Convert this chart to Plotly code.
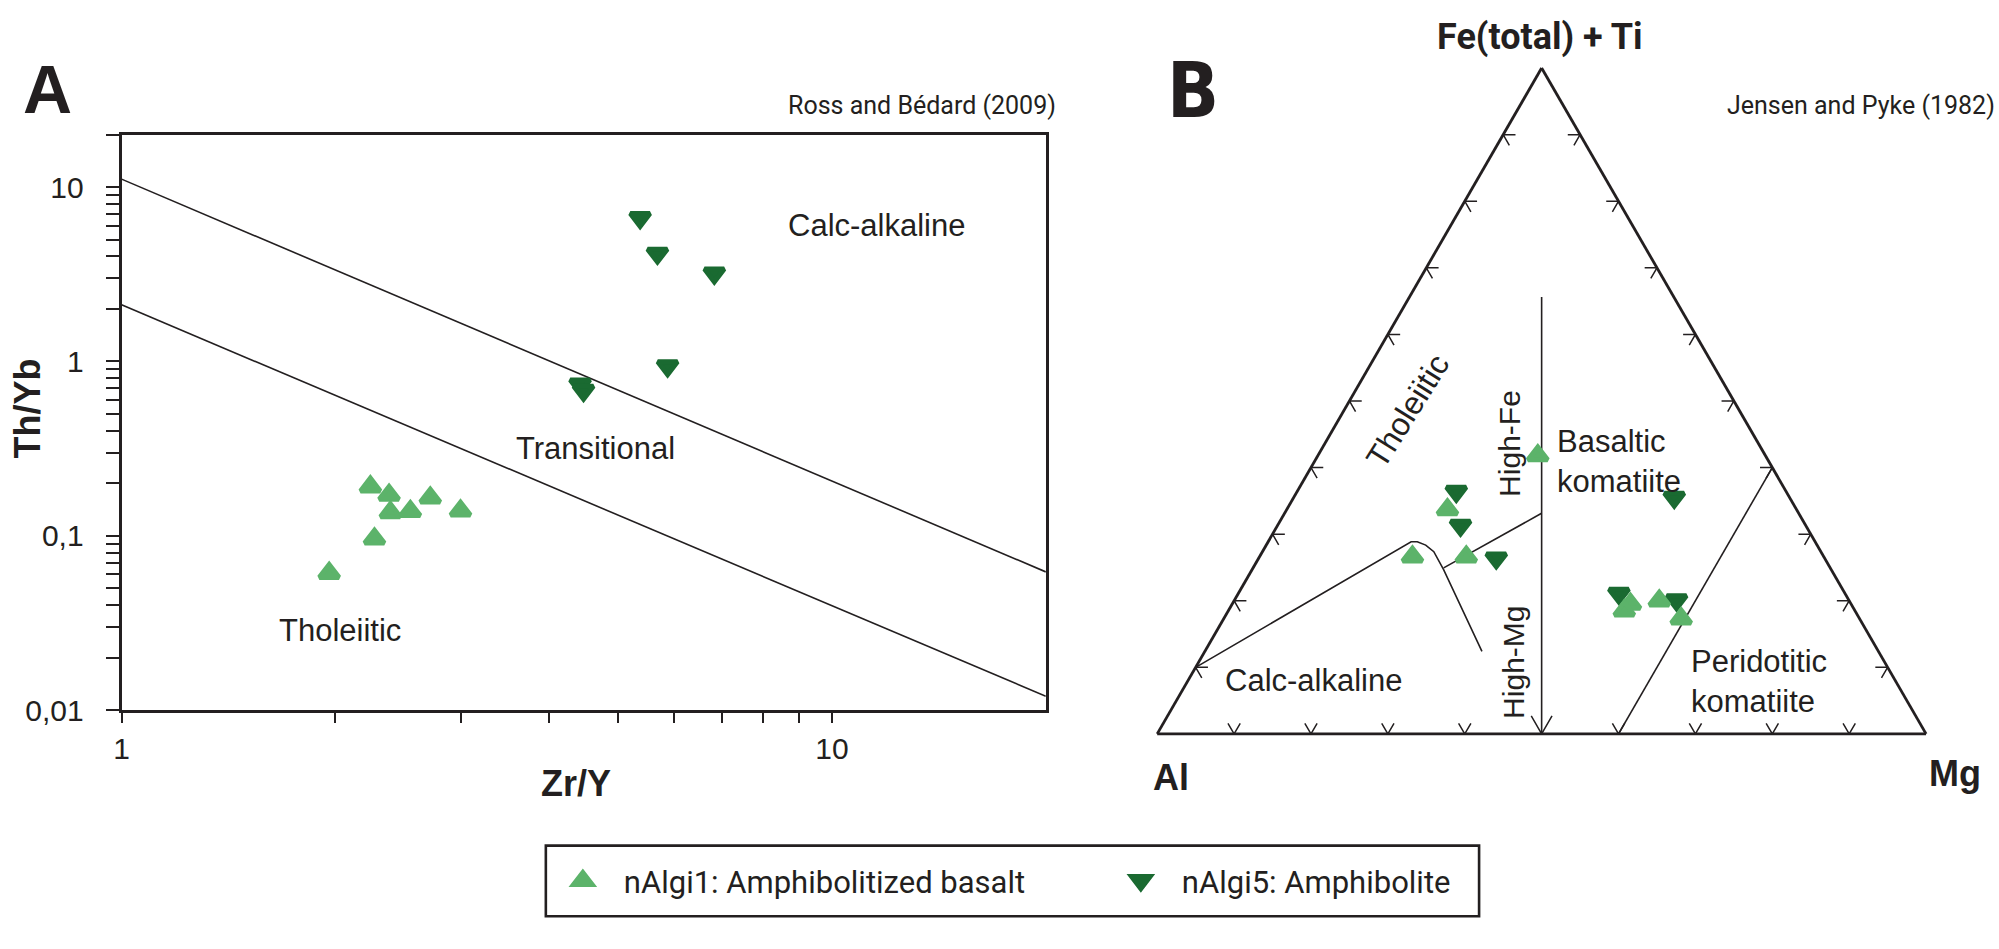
import math
import plotly.graph_objects as go

W, H = 1999, 949

# ---------------- Panel A : Th/Yb vs Zr/Y (Ross and Bédard, 2009) ----------------
zr_y_basalt = [2.24, 2.38, 2.39, 2.55, 2.72, 3.00, 2.27, 1.96]
th_yb_basalt = [0.191, 0.171, 0.136, 0.138, 0.165, 0.139, 0.096, 0.061]
zr_y_amph = [5.37, 5.68, 6.83, 4.42, 4.47, 5.87]
th_yb_amph = [6.66, 4.16, 3.20, 0.74, 0.68, 0.94]

bound_zr = [1, 20]
bound_upper = [11.1, 0.062]
bound_lower = [2.11, 0.012]

y_decades = [0.01, 0.1, 1, 10]
y_decade_text = ["0,01", "0,1", "1", "10"]
x_decades = [1, 10]
x_decade_text = ["1", "10"]
minor_mult = [2, 3, 4, 5, 6, 7, 8, 9]

# ---------------- Panel B : Jensen cation plot (Jensen and Pyke, 1982) ----------------
fe_basalt = [0.418, 0.337, 0.266, 0.266, 0.195, 0.185, 0.200, 0.173]
al_basalt = [0.296, 0.454, 0.465, 0.535, 0.287, 0.300, 0.247, 0.232]
mg_basalt = [0.286, 0.209, 0.269, 0.199, 0.518, 0.515, 0.553, 0.595]
fe_amph = [0.364, 0.313, 0.264, 0.355, 0.211, 0.201]
al_amph = [0.429, 0.449, 0.427, 0.150, 0.294, 0.224]
mg_amph = [0.207, 0.238, 0.309, 0.495, 0.495, 0.575]

# field boundaries (Fe+Ti, Al, Mg)
div_fe = [0.0, 0.656]
div_al = [0.5, 0.172]
div_mg = [0.5, 0.172]
thca_fe = [0.100, 0.2885, 0.2885, 0.2836, 0.2737, 0.2468, 0.1239]
thca_al = [0.900, 0.5255, 0.5175, 0.5090, 0.5034, 0.5041, 0.5157]
thca_mg = [0.000, 0.1860, 0.1940, 0.2074, 0.2229, 0.2491, 0.3604]
bk_fe = [0.2493, 0.3313]
bk_al = [0.5028, 0.3344]
bk_mg = [0.2479, 0.3343]
pk_fe = [0.0, 0.4]
pk_al = [0.4, 0.0]
pk_mg = [0.6, 0.6]
edge_ticks = [0.1, 0.2, 0.3, 0.4, 0.5, 0.6, 0.7, 0.8, 0.9]

LIGHT = "#5cb36a"
DARK = "#1a6a31"
INK = "#231f20"
AR = "Liberation Sans, Arial, Helvetica, sans-serif"
MY = "Roboto, Open Sans, sans-serif"
MSIZE = 17
MLINE = 5


def px(x):
    return x / W


def py(y):
    return 1 - y / H


fig = go.Figure()

# boundary lines panel A
for yy in (bound_upper, bound_lower):
    fig.add_trace(go.Scatter(x=bound_zr, y=yy, mode="lines", line=dict(color=INK, width=1.6),
                             showlegend=False, hoverinfo="skip", xaxis="x", yaxis="y"))

fig.add_trace(go.Scatter(x=zr_y_amph, y=th_yb_amph, mode="markers", name="nAlgi5: Amphibolite",
                         legendgroup="a5", legendrank=2,
                         marker=dict(symbol="triangle-down", size=MSIZE, color=DARK,
                                     line=dict(color=DARK, width=MLINE)), xaxis="x", yaxis="y"))
fig.add_trace(go.Scatter(x=zr_y_basalt, y=th_yb_basalt, mode="markers", name="nAlgi1: Amphibolitized basalt",
                         legendgroup="a1", legendrank=1,
                         marker=dict(symbol="triangle-up", size=MSIZE, color=LIGHT,
                                     line=dict(color=LIGHT, width=MLINE)), xaxis="x", yaxis="y"))

# ---- ternary chevron ticks
d = 0.016
da = 0.027
tk_a, tk_b, tk_c = [], [], []


def chevron(p1, p0, p2):
    for p in (p1, p0, p2):
        tk_a.append(p[0]); tk_b.append(p[1]); tk_c.append(p[2])
    tk_a.append(None); tk_b.append(None); tk_c.append(None)


for t in edge_ticks:
    # base edge (Fe+Ti = 0)
    dd = da if abs(t - 0.5) < 1e-9 else d
    chevron((dd, 1 - t - dd, t), (0, 1 - t, t), (dd, 1 - t, t - dd))
    # left edge (Mg = 0)
    chevron((t, 1 - t - d, d), (t, 1 - t, 0), (t - d, 1 - t, d))
    # right edge (Al = 0)
    chevron((t, d, 1 - t - d), (t, 0, 1 - t), (t - d, d, 1 - t))

fig.add_trace(go.Scatterternary(a=tk_a, b=tk_b, c=tk_c, mode="lines", connectgaps=False,
                                line=dict(color=INK, width=1.5), showlegend=False, hoverinfo="skip",
                                subplot="ternary"))
for aa, bb, cc in ((div_fe, div_al, div_mg), (thca_fe, thca_al, thca_mg),
                   (bk_fe, bk_al, bk_mg), (pk_fe, pk_al, pk_mg)):
    fig.add_trace(go.Scatterternary(a=aa, b=bb, c=cc, mode="lines", line=dict(color=INK, width=1.6),
                                    showlegend=False, hoverinfo="skip", subplot="ternary"))

fig.add_trace(go.Scatterternary(a=fe_amph, b=al_amph, c=mg_amph, mode="markers", name="nAlgi5: Amphibolite",
                                legendgroup="a5", showlegend=False,
                                marker=dict(symbol="triangle-down", size=MSIZE, color=DARK,
                                            line=dict(color=DARK, width=MLINE)), subplot="ternary"))
fig.add_trace(go.Scatterternary(a=fe_basalt, b=al_basalt, c=mg_basalt, mode="markers",
                                name="nAlgi1: Amphibolitized basalt", legendgroup="a1", showlegend=False,
                                marker=dict(symbol="triangle-up", size=MSIZE, color=LIGHT,
                                            line=dict(color=LIGHT, width=MLINE)), subplot="ternary"))

# ---- axes of panel A
y_vals = []
y_text = []
for v, lab in zip(y_decades, y_decade_text):
    y_vals.append(v); y_text.append(lab)
    for m in minor_mult:
        if v < 10:
            y_vals.append(v * m); y_text.append("")
y_vals.append(20); y_text.append("")
x_vals = []
x_text = []
for v, lab in zip(x_decades, x_decade_text):
    x_vals.append(v); x_text.append(lab)
    if v < 10:
        for m in minor_mult:
            x_vals.append(v * m); x_text.append("")

axis_common = dict(type="log", showgrid=False, zeroline=False, showline=True, linecolor=INK,
                   linewidth=2.8, mirror=True, ticks="outside", tickcolor=INK, tickwidth=2.4,
                   tickmode="array", tickfont=dict(family=AR, size=30, color=INK))

ternary_axis = dict(showline=True, linecolor=INK, linewidth=2.8, showgrid=False, ticks="",
                    showticklabels=False, title=dict(text=""), min=0)

tri_w = 783.0
tri_cx = 1539.8
tri_top, tri_bot = 69.3, 747.3

ann = []


def label(text, x, y, size, family=AR, bold=False, angle=0, xanchor="center", align="center", color=INK):
    ann.append(dict(text=text, x=px(x), y=py(y), xref="paper", yref="paper", showarrow=False,
                    xanchor=xanchor, yanchor="middle", align=align, textangle=angle,
                    font=dict(family=family, size=size, color=color, weight="bold" if bold else "normal")))


label("A", 40, 91, 68, bold=True)
label("Ross and Bédard (2009)", 1054, 107, 25, family=MY, xanchor="right")
label("Calc-alkaline", 872, 230, 31)
label("Transitional", 590, 457, 31)
label("Tholeiitic", 333, 642, 31)
label("Th/Yb", 20, 416, 36, bold=True, angle=-90)
label("Zr/Y", 570, 798, 36, bold=True)

label("B", 1190, 92, 76, family="Liberation Sans Narrow, DejaVu Sans Condensed, Roboto, sans-serif", bold=True)
label("Fe(total) + Ti", 1538, 38, 36, family=MY, bold=True)
label("Jensen and Pyke (1982)", 1997, 107, 25, family=MY, xanchor="right")
label("Al", 1168, 792, 36, bold=True)
label("Mg", 1955, 788, 36, bold=True)
label("Tholeiitic", 1405, 418, 32, angle=-58)
label("High-Fe", 1508, 451, 30, angle=-90)
label("High-Mg", 1512, 674, 30, angle=-90)
label("Basaltic<br>komatiite", 1553, 470, 31, xanchor="left", align="left")
label("Peridotitic<br>komatiite", 1688, 694, 31, xanchor="left", align="left")
label("Calc-alkaline", 1311, 693, 31)

fig.update_layout(
    width=W, height=H, autosize=False,
    margin=dict(l=0, r=0, t=0, b=0),
    paper_bgcolor="white", plot_bgcolor="white",
    xaxis=dict(axis_common, domain=[px(114), px(1042)], range=[math.log10(1), math.log10(20)],
               tickvals=x_vals, ticktext=x_text, ticklen=10, anchor="y"),
    yaxis=dict(axis_common, domain=[py(723), py(137)], range=[math.log10(0.01), math.log10(20)],
               tickvals=y_vals, ticktext=y_text, ticklen=13, ticklabelstandoff=16, anchor="x"),
    ternary=dict(
        domain=dict(x=[px(tri_cx - tri_w / 2), px(tri_cx + tri_w / 2)], y=[py(tri_bot), py(tri_top)]),
        sum=1, bgcolor="white",
        aaxis=ternary_axis, baxis=ternary_axis, caxis=ternary_axis,
    ),
    showlegend=True,
    legend=dict(orientation="h", x=px(536), xanchor="left", y=py(897), yanchor="middle",
                font=dict(family=MY, size=31, color=INK), itemwidth=72, entrywidth=471,
                bgcolor="rgba(0,0,0,0)", borderwidth=0, traceorder="normal"),
    annotations=ann,
    shapes=[dict(type="rect", xref="paper", yref="paper", x0=px(540), x1=px(1477), y0=py(933), y1=py(861),
                 line=dict(color=INK, width=2.6), fillcolor="rgba(0,0,0,0)")],
)

fig.write_html("out.html", config={"displayModeBar": False},
               post_script="document.body.style.margin='0';document.body.style.overflow='hidden';")
